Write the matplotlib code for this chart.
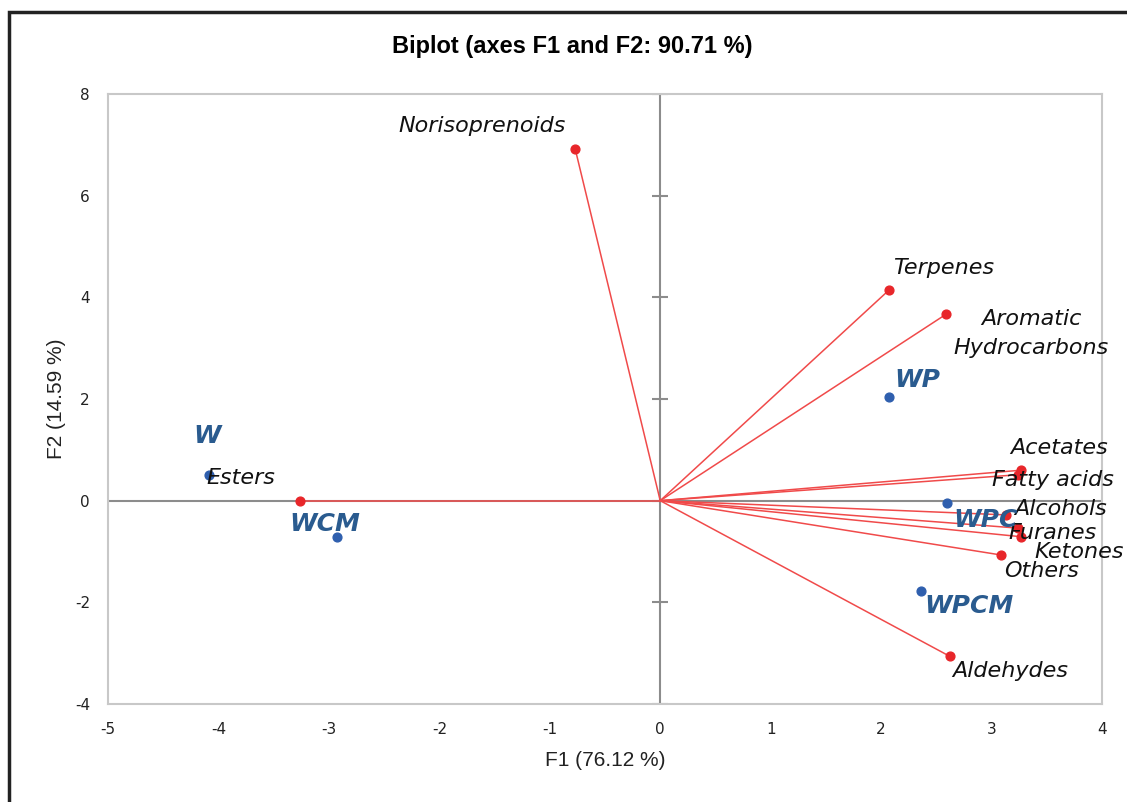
import numpy as np
import matplotlib.pyplot as plt
from matplotlib.patches import Rectangle

plt.rcParams['axes.unicode_minus'] = False

# Variables (red vectors)
var_names = ['Norisoprenoids', 'Terpenes', 'Aromatic\nHydrocarbons', 'Acetates', 'Fatty acids',
             'Alcohols', 'Furanes', 'Ketones', 'Others', 'Aldehydes', 'Esters']
var_f1 = [-0.77, 2.07, 2.59, 3.27, 3.24, 3.13, 3.24, 3.27, 3.09, 2.62, -3.26]
var_f2 = [6.92, 4.14, 3.67, 0.60, 0.51, -0.28, -0.54, -0.71, -1.07, -3.06, 0.00]

# Observations (blue points)
obs_names = ['W', 'WCM', 'WP', 'WPC', 'WPCM']
obs_f1 = [-4.09, -2.93, 2.07, 2.60, 2.36]
obs_f2 = [0.51, -0.71, 2.04, -0.05, -1.77]

x_ticks = list(range(-5, 5))
y_ticks = list(range(-4, 9, 2))

# label offsets in pixels
var_off = [(-93, 23), (55, 22), (85, -19), (38, 22), (35, -5), (55, 6),
           (34, -5), (58, -15), (40, -16), (61, -15), (-59, 23)]
obs_off = [(-1, 39), (-12, 13), (28, 17), (38, -17), (48, -15)]

fig = plt.figure(figsize=(11.27, 8.02), dpi=100)
ax = fig.add_axes([108 / 1127, 1 - 704 / 802, (1102 - 108) / 1127, (704 - 94) / 802])

# frame around the chart
fig.patches.append(Rectangle((9 / 1127, -0.1), 1.2, 1 - 12 / 802 + 0.1, transform=fig.transFigure,
                             fill=False, edgecolor='#222222', linewidth=2.5))

ax.set_xlim(-5, 4)
ax.set_ylim(-4, 8)
ax.set_xticks(x_ticks)
ax.set_yticks(y_ticks)
ax.tick_params(length=0, labelsize=11, colors='#222222')
ax.tick_params(axis='x', pad=13)
ax.tick_params(axis='y', pad=13)
for s in ax.spines.values():
    s.set_color('#c8c8c8')
    s.set_linewidth(1.5)

# zero lines, small ticks on the vertical one
ax.axhline(0, color='#8c8c8c', lw=1.5, zorder=1)
ax.axvline(0, color='#8c8c8c', lw=1.5, zorder=1)
ax.plot([0] * len(y_ticks), y_ticks, ls='none', marker='_', ms=11, color='#8c8c8c', mew=1.5)

# vectors
for x, y in zip(var_f1, var_f2):
    ax.plot([0, x], [0, y], color='#f04a4a', lw=1.1, zorder=2)
ax.scatter(var_f1, var_f2, s=40, color='#e8262a', zorder=3)
ax.scatter(obs_f1, obs_f2, s=40, color='#2f5fae', zorder=3)

for name, x, y, off in zip(var_names, var_f1, var_f2, var_off):
    ax.annotate(name, (x, y), xytext=off, textcoords='offset pixels', ha='center', va='center',
                fontsize=16, style='italic', family='DejaVu Sans',
                color='#111111', linespacing=1.55)
for name, x, y, off in zip(obs_names, obs_f1, obs_f2, obs_off):
    ax.annotate(name, (x, y), xytext=off, textcoords='offset pixels', ha='center', va='center',
                fontsize=18, style='italic', fontweight='bold', family='DejaVu Sans',
                color='#2a5b8f')

fig.text(572 / 1127, 1 - 47 / 802, 'Biplot (axes F1 and F2: 90.71 %)', fontsize=17, fontweight='bold',
         family='Liberation Sans', ha='center', va='center')
ax.set_xlabel('F1 (76.12 %)', fontsize=15, family='Liberation Sans', color='#222222')
ax.set_ylabel('F2 (14.59 %)', fontsize=15, family='Liberation Sans', color='#222222')
ax.xaxis.set_label_coords(0.5, (704 - 761) / 610)
ax.yaxis.set_label_coords((57 - 108) / 994, 0.5)
ax.xaxis.label.set_va('center')
ax.yaxis.label.set_va('center')

fig.savefig('out.png', dpi=100)
